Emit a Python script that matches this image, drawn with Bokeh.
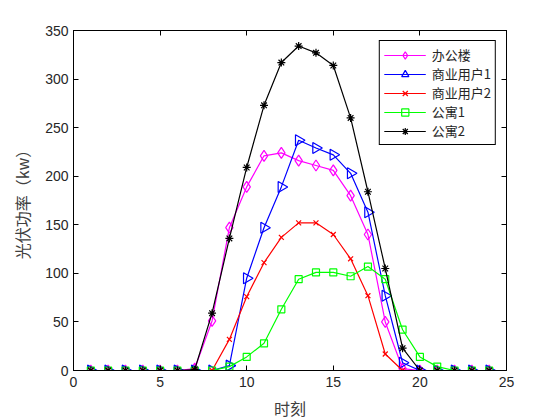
import math

from bokeh.embed import file_html
from bokeh.models import FixedTicker, Legend, LegendItem, LinearAxis, Range1d
from bokeh.plotting import figure
from bokeh.resources import INLINE

hours = list(range(1, 25))

office = [0, 0, 0, 0, 0, 0, 2, 51, 147, 189, 221, 224, 216, 211, 206, 180,
          140, 50, 2, 0, 0, 0, 0, 0]
commercial1 = [0, 0, 0, 0, 0, 0, 0, 0, 5, 95, 147, 189, 237, 229, 222, 203,
               163, 77, 8, 0, 0, 0, 0, 0]
commercial2 = [0, 0, 0, 0, 0, 0, 0, 0, 32, 76, 111, 137, 152, 152, 140, 115,
               77, 17, 0, 0, 0, 0, 0, 0]
apartment1 = [0, 0, 0, 0, 0, 0, 0, 0, 4, 14, 28, 63, 94, 101, 101, 97,
              107, 94, 42, 14, 4, 0, 0, 0]
apartment2 = [0, 0, 0, 0, 0, 0, 1, 59, 136, 209, 273, 317, 334, 327, 314, 260,
              184, 105, 23, 0, 0, 0, 0, 0]

names = ["办公楼", "商业用户1", "商业用户2", "公寓1", "公寓2"]
x_ticks = [0, 5, 10, 15, 20, 25]
y_ticks = [0, 50, 100, 150, 200, 250, 300, 350]

NUM_FONT = "Liberation Sans"
CJK_FONT = "Noto Sans CJK SC"
TXT = "#262626"

p = figure(
    frame_width=433,
    frame_height=340,
    min_border_left=73,
    min_border_top=30,
    min_border_right=10,
    min_border_bottom=10,
    x_range=Range1d(0, 25),
    y_range=Range1d(0, 350),
    x_axis_label="时刻",
    y_axis_label="光伏功率（kw）",
    output_backend="svg",
    toolbar_location=None,
)
p.xgrid.visible = False
p.ygrid.visible = False
p.outline_line_color = "black"
p.outline_line_width = 1
p.background_fill_color = "white"
p.border_fill_color = "white"


def style_axis(ax, ticks, show_labels=True):
    ax.ticker = FixedTicker(ticks=ticks)
    ax.axis_line_color = "black"
    ax.major_tick_in = 5
    ax.major_tick_out = 0
    ax.minor_tick_line_color = None
    ax.major_tick_line_color = "black"
    if show_labels:
        ax.major_label_text_font = NUM_FONT
        ax.major_label_text_font_size = "14px"
        ax.major_label_text_color = TXT
        ax.axis_label_text_font = CJK_FONT
        ax.axis_label_text_font_size = "16px"
        ax.axis_label_text_font_style = "normal"
        ax.axis_label_text_color = "#404040"
    else:
        ax.major_label_text_font_size = "0px"
        ax.major_label_text_color = None


style_axis(p.xaxis[0], x_ticks)
style_axis(p.yaxis[0], y_ticks)
p.xaxis[0].major_label_standoff = 6
p.xaxis[0].axis_label_standoff = 6
p.yaxis[0].major_label_standoff = 5
p.yaxis[0].axis_label_standoff = 8

top_ax = LinearAxis()
style_axis(top_ax, x_ticks, show_labels=False)
p.add_layout(top_ax, "above")
right_ax = LinearAxis()
style_axis(right_ax, y_ticks, show_labels=False)
p.add_layout(right_ax, "right")

series = [
    (office, "#FF00FF", "diamond", 11, 0.0),
    (commercial1, "#0000FF", "triangle", 11, -math.pi / 2),
    (commercial2, "#FF0000", "x", 7, 0.0),
    (apartment1, "#00FF00", "square", 7, 0.0),
    (apartment2, "black", "asterisk", 8, 0.0),
]

items = []
for (vals, color, marker, size, ang), name in zip(series, names):
    ln = p.line(hours, vals, line_color=color, line_width=1.2)
    sc = p.scatter(hours, vals, marker=marker, size=size, angle=ang,
                   line_color=color, fill_color=None, line_width=1.2)
    items.append(LegendItem(label=name, renderers=[ln, sc]))

legend = Legend(items=items, location="top_right")
legend.label_text_font = CJK_FONT
legend.label_text_font_size = "13px"
legend.label_text_color = TXT
legend.border_line_color = "black"
legend.border_line_width = 1
legend.border_line_alpha = 1
legend.background_fill_color = "white"
legend.background_fill_alpha = 1
legend.glyph_width = 42
legend.glyph_height = 18
legend.label_height = 18
legend.label_standoff = 6
legend.spacing = 0
legend.padding = 4
legend.margin = 10
p.add_layout(legend)

open("out.html", "w").write(file_html(p, INLINE))
